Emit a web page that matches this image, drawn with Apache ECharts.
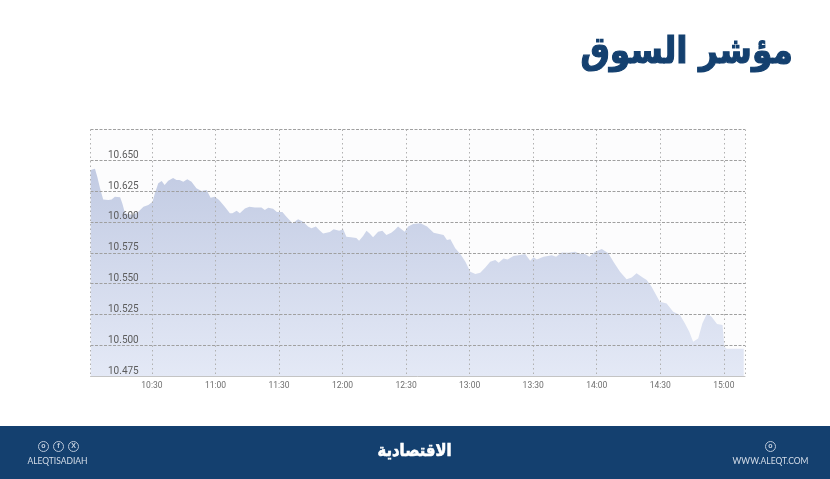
<!DOCTYPE html>
<html><head><meta charset="utf-8">
<style>html,body{margin:0;padding:0;background:#fff}#c{width:830px;height:479px}</style>
<script src="https://cdn.jsdelivr.net/npm/echarts@6/dist/echarts.min.js"></script></head>
<body><div id="c"></div>
<script>
const titleText = 'مؤشر السوق';
const logoText = 'الاقتصادية';
const handleText = 'ALEQTISADIAH';
const siteText = 'WWW.ALEQT.COM';
// minutes since midnight
const times = [601.1,603.1,604.2,605.5,607,609.4,611,612.5,615,616,617.3,621,623.6,626,628.3,630.3,631.4,633,634.6,636,637.7,640,641.6,643,644.8,646.7,648.7,651,653.4,655.8,657.7,659.7,661.7,664.4,666.8,668,670,671.5,673.9,676,678.6,681.7,683.3,684.9,687.2,689,691.6,693.5,696.4,699,701.4,703.7,705.3,707.4,709,710.8,714,715.8,718.4,720.3,721.8,724,726.5,727.8,729.7,731.3,732.8,734.4,736.8,738.8,740.7,743,744.6,746.2,749.3,751,753.3,756.8,759.9,763,767.7,769.3,770.9,773.2,775.6,778,780.3,782.7,785,787.4,789.7,792.1,793.7,796,797.9,800.7,803.9,806.2,808.6,810.2,811.7,814.9,818.8,820.8,823.5,826.6,829.8,832.1,834.5,836.5,839.2,842.4,845.5,847.9,851,854.1,856.5,858.8,861.7,863.6,865.9,869.8,873,876.1,879.3,881.6,883.7,885.5,887.9,889.9,892.1,894.2,896.8,899.4,900,900.3,901.3,909.4];
const values = [10.6422,10.6432,10.6367,10.6273,10.6183,10.6178,10.6183,10.6205,10.62,10.6151,10.607,10.6056,10.6083,10.6124,10.6137,10.6164,10.6232,10.6313,10.6332,10.63,10.6335,10.6357,10.634,10.634,10.6327,10.6346,10.6327,10.6273,10.6251,10.6259,10.6197,10.6205,10.6178,10.6124,10.607,10.607,10.6091,10.607,10.611,10.6124,10.6118,10.6118,10.6097,10.6116,10.6108,10.6081,10.6081,10.6043,10.5989,10.6021,10.6002,10.5962,10.5948,10.5962,10.5934,10.5907,10.5918,10.594,10.5929,10.594,10.588,10.5875,10.587,10.5848,10.5886,10.5929,10.5907,10.5875,10.5921,10.5929,10.5894,10.5913,10.5934,10.5962,10.5921,10.5962,10.5983,10.5989,10.5962,10.5913,10.5894,10.5853,10.5859,10.5786,10.574,10.5677,10.5596,10.5577,10.5588,10.5631,10.5677,10.5691,10.5669,10.5704,10.5696,10.5723,10.5731,10.574,10.5685,10.5713,10.5696,10.5718,10.5729,10.5718,10.5753,10.575,10.5759,10.574,10.574,10.5718,10.5759,10.578,10.5745,10.5677,10.5596,10.5534,10.555,10.5583,10.555,10.5529,10.5474,10.5353,10.5339,10.5271,10.5244,10.5177,10.5109,10.5028,10.5055,10.5177,10.5258,10.5231,10.5171,10.5163,10.5163,10.4987,10.4971,10.4971];
const xTicks = [601,630,660,690,720,750,780,810,840,870,900,910];
const xLabelTicks = [630,660,690,720,750,780,810,840,870,900];
const yMin = 10.475, yMax = 10.675, yStep = 0.025;

const navy = '#14406f';
function clock(m){const h=Math.floor(m/60),n=Math.round(m-h*60);return h+':'+String(n).padStart(2,'0');}
function ring(cx,cy,r){return {type:'circle',shape:{cx,cy,r},style:{fill:'none',stroke:'#b9c6d8',lineWidth:1},silent:true};}
function glyph(x,y,t,size){return {type:'text',x,y,silent:true,style:{text:t,fill:'#c8d3e2',font:'bold '+size+'px "Liberation Sans"',align:'center',verticalAlign:'middle'}};}

const chart = echarts.init(document.getElementById('c'),null,{renderer:'canvas'});
chart.setOption({
  animation:false,
  backgroundColor:'#ffffff',
  grid:{left:90.5,right:85,top:129.5,bottom:103,backgroundColor:'#fcfcfd',show:true,borderWidth:0},
  xAxis:{type:'value',min:601,max:910,z:5,
    axisLine:{show:true,lineStyle:{color:'#c4c4c4',width:1}},
    axisTick:{show:false,customValues:xTicks},
    splitLine:{show:true,lineStyle:{color:'#b0b0b0',width:1,type:[1.5,3]}},
    axisLabel:{customValues:xLabelTicks,formatter:clock,color:'#6e6e6e',fontFamily:'Roboto',fontSize:8.5,margin:5}},
  yAxis:{type:'value',min:yMin,max:yMax,interval:yStep,z:5,
    axisLine:{show:false},axisTick:{show:false},
    splitLine:{show:true,showMinLine:false,lineStyle:{color:'#a0a0a0',width:1,type:[3,1.5]}},
    axisLabel:{inside:true,margin:17.5,showMaxLabel:false,verticalAlign:'bottom',
      formatter:v=>v.toFixed(3),color:'#5c5c5c',fontFamily:'Roboto',fontSize:10}},
  series:[{type:'line',z:2,data:times.map((t,i)=>[t,values[i]]),showSymbol:false,smooth:false,
    lineStyle:{width:0},
    areaStyle:{origin:'start',opacity:1,color:new echarts.graphic.LinearGradient(0,0,0,1,[
      {offset:0,color:'#c2cbe3'},{offset:1,color:'#e4e9f6'}])}}],
  graphic:[
    {type:'text',x:793,y:53,scaleX:0.89,silent:true,style:{text:titleText,fill:navy,stroke:navy,lineWidth:1.2,font:'bold 37px "DejaVu Sans"',align:'right',verticalAlign:'middle'}},
    {type:'rect',shape:{x:0,y:426,width:830,height:53},style:{fill:navy},silent:true},
    ring(43.5,446.5,5),ring(58.5,446.5,5),ring(73.5,446.5,5),ring(770.5,446.5,5),
    glyph(43.5,446.5,'o',7),glyph(58.5,446.5,'f',7),glyph(73.5,446.5,'X',7),glyph(770.5,446.5,'o',7),
    {type:'text',x:57.5,y:461,silent:true,style:{text:handleText,fill:'#d5dde8',font:'8.5px Lato',align:'center',verticalAlign:'middle'}},
    {type:'text',x:770.5,y:461,silent:true,style:{text:siteText,fill:'#d5dde8',font:'8.5px Lato',align:'center',verticalAlign:'middle'}},
    {type:'text',x:414.5,y:452,scaleX:0.87,originX:0,silent:true,style:{text:logoText,fill:'#ffffff',stroke:'#ffffff',lineWidth:0.6,font:'bold 17px "DejaVu Sans"',align:'center',verticalAlign:'middle'}}
  ]
});
</script></body></html>
